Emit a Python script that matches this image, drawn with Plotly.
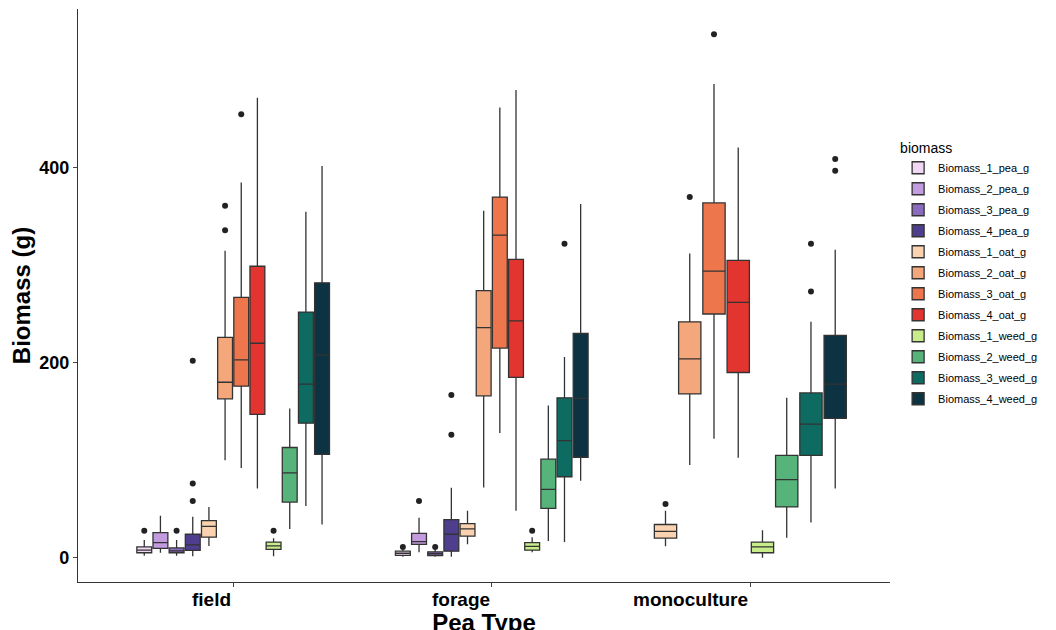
import plotly.graph_objects as go

categories = ["field", "forage", "monoculture"]
groups = ["Biomass_1_pea_g", "Biomass_2_pea_g", "Biomass_3_pea_g", "Biomass_4_pea_g",
          "Biomass_1_oat_g", "Biomass_2_oat_g", "Biomass_3_oat_g", "Biomass_4_oat_g",
          "Biomass_1_weed_g", "Biomass_2_weed_g", "Biomass_3_weed_g", "Biomass_4_weed_g"]
colors = ["#F1D7F3", "#C39BDF", "#8B6BBE", "#4F3E8E",
          "#FAD2B0", "#F4A77A", "#EE764C", "#E2352F",
          "#C8EC8A", "#56B47A", "#0E6B62", "#0D3342"]

# box stats per category: [low whisker, q1, median, q3, high whisker], None = no data
field = [
    [2, 5, 7.7, 11, 18], [5, 9.5, 15.4, 25.6, 43], [2, 5, 7, 10, 18], [1.4, 7.4, 13, 24, 42],
    [12, 21, 32, 38, 52], [100, 163, 180, 226, 315], [92, 176, 203, 267, 385], [71, 147, 220, 299, 472],
    [1.4, 8.4, 12, 16, 20], [29.5, 57, 87, 113, 153], [53, 138, 178, 252, 355], [34, 106, 208, 282, 402],
]
forage = [
    [1, 2.4, 4.5, 6.6, 8], [5.6, 13.7, 16.5, 25, 41], [1, 2, 4, 6, 8], [1, 6.6, 24, 39, 71.6],
    [13.7, 22, 29.5, 35, 48], [72, 166, 236, 274, 356], [128, 215, 331, 370, 462], [48, 185, 243, 306, 480],
    [5.6, 7.7, 11.6, 15.5, 21], [17, 50.5, 70, 101, 156], [16, 83, 120, 164, 206], [79, 103, 163.5, 230, 363],
]
monoculture = [
    None, None, None, None,
    [11.6, 20, 27, 34, 48], [95, 168, 204, 242, 312], [122, 250, 294, 364, 486], [102.5, 190, 262, 305, 421],
    [0, 5, 11, 16, 28], [20.5, 52, 80, 105, 164], [36, 105, 137, 169, 242], [71, 143, 178, 228, 316],
]
stats = [field, forage, monoculture]

outliers = [
    [[27.7], [], [27.7], [58, 76, 202], [], [336, 361], [455], [], [27.7], [], [], []],
    [[11], [58], [11], [126, 167], [], [], [], [], [27.7], [], [322], []],
    [[], [], [], [], [55], [370], [537], [], [], [], [273, 322], [409, 397]],
]

fig = go.Figure()
for ci, cat in enumerate(categories):
    present = [gi for gi in range(len(groups)) if stats[ci][gi] is not None]
    w = 0.75 / len(present)
    for k, gi in enumerate(present):
        pos = ci + 1 - 0.375 + (k + 0.5) * w
        lo, q1, med, q3, hi = stats[ci][gi]
        fig.add_trace(go.Box(
            x=[pos], q1=[q1], median=[med], q3=[q3], lowerfence=[lo], upperfence=[hi],
            width=w * 0.92, name=groups[gi], legendgroup=groups[gi], showlegend=(ci == 0),
            fillcolor=colors[gi], line=dict(color="#333333", width=1.3),
            whiskerwidth=0, boxpoints=False, hoverinfo="skip"))
        if outliers[ci][gi]:
            fig.add_trace(go.Scatter(
                x=[pos] * len(outliers[ci][gi]), y=outliers[ci][gi], mode="markers",
                marker=dict(color="#222222", size=6), showlegend=False, hoverinfo="skip"))

for ci, cat in enumerate(categories):
    fig.add_annotation(x=ci + 1, y=0, xref="x", yref="paper", text="<b>" + cat + "</b>",
                       showarrow=False, xanchor="right", yanchor="top", yshift=-5,
                       font=dict(size=19, color="black", family="Liberation Sans"))

fig.update_layout(
    width=1056, height=630, plot_bgcolor="white", paper_bgcolor="white",
    margin=dict(l=70, r=174, t=1, b=56),
    font=dict(family="Liberation Sans", color="black"),
    legend=dict(title=dict(text="biomass", font=dict(size=14)), font=dict(size=11),
                x=1.01, y=0.78, yanchor="top", tracegroupgap=2),
    xaxis=dict(range=[0.4, 3.54], showticklabels=False, tickvals=[1, 2, 3], ticks="outside",
               ticklen=4, showline=True, linecolor="#333333", linewidth=1.3, showgrid=False,
               zeroline=False,
               title=dict(text="<b>Pea Type</b>", font=dict(size=24), standoff=28)),
    yaxis=dict(range=[-25, 563], tickvals=[0, 200, 400], ticktext=["<b>0</b>", "<b>200</b>", "<b>400</b>"],
               ticks="outside", ticklen=4, tickfont=dict(size=18), showline=True,
               linecolor="#333333", linewidth=1.3, showgrid=False, zeroline=False,
               title=dict(text="<b>Biomass (g)</b>", font=dict(size=24), standoff=8)),
)

fig.write_html("out.html")
